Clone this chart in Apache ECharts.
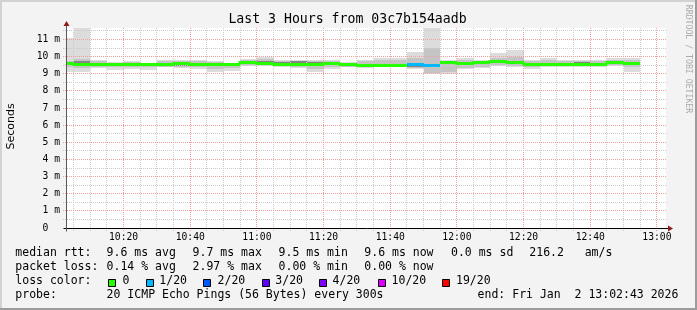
<!DOCTYPE html>
<html><head><meta charset="utf-8">
<script src="https://cdn.jsdelivr.net/npm/echarts@6/dist/echarts.min.js"></script>
<style>html,body{margin:0;padding:0;background:#f3f3f3}#c{width:697px;height:310px}</style>
</head><body><div id="c"></div>
<script>
// ---- time range (seconds of day) ----
const startClock = '10:02:43';
const endClock = '13:02:43';
// ---- 5-minute bins (end time of each bin) ----
const binEnd = ['10:05','10:10','10:15','10:20','10:25','10:30','10:35','10:40','10:45','10:50','10:55',
  '11:00','11:05','11:10','11:15','11:20','11:25','11:30','11:35','11:40','11:45','11:50','11:55',
  '12:00','12:05','12:10','12:15','12:20','12:25','12:30','12:35','12:40','12:45','12:50','12:55'];
// ---- values in ms ----
const rttMin  = [9.10,9.10,9.32,9.22,9.30,9.20,9.37,9.35,9.30,9.12,9.14,9.48,9.45,9.40,9.32,9.12,9.27,9.37,9.32,9.41,9.38,9.26,8.97,9.00,9.26,9.32,9.45,9.41,9.30,9.41,9.41,9.37,9.41,9.45,9.12];
const rttLo   = [9.42,9.35,9.42,9.38,9.42,9.42,9.42,9.42,9.40,9.30,9.32,9.52,9.50,9.45,9.42,9.30,9.38,9.42,9.40,9.45,9.45,9.35,9.05,9.12,9.35,9.40,9.50,9.48,9.38,9.45,9.45,9.45,9.45,9.50,9.40];
const coreLo  = [9.55,9.50,9.52,9.47,9.52,9.52,9.45,9.45,9.50,9.52,9.50,9.55,9.58,9.55,9.55,9.52,9.50,9.48,9.44,9.47,9.47,9.40,9.38,9.58,9.58,9.60,9.62,9.60,9.48,9.55,9.55,9.55,9.55,9.58,9.55];
const median  = [9.61,9.58,9.57,9.57,9.58,9.57,9.60,9.65,9.59,9.60,9.59,9.68,9.65,9.60,9.60,9.60,9.61,9.58,9.52,9.52,9.52,9.55,9.50,9.67,9.65,9.70,9.72,9.69,9.60,9.60,9.60,9.60,9.60,9.67,9.63];
const coreHi  = [9.66,9.72,9.64,9.60,9.62,9.60,9.63,9.68,9.62,9.63,9.61,9.70,9.72,9.70,9.74,9.68,9.63,9.62,9.58,9.58,9.57,9.60,9.55,9.70,9.70,9.72,9.75,9.72,9.62,9.65,9.63,9.70,9.65,9.70,9.67];
const rttHi   = [9.76,9.85,9.74,9.66,9.70,9.62,9.72,9.74,9.72,9.68,9.62,9.80,9.85,9.74,9.76,9.72,9.72,9.66,9.72,9.80,9.78,9.95,10.49,9.72,9.80,9.75,9.95,10.00,9.72,9.78,9.72,9.72,9.72,9.80,9.80];
const rttMax  = [11.07,12.50,9.80,9.68,9.76,9.64,9.78,9.80,9.80,9.76,9.64,9.85,9.97,9.80,9.80,9.80,9.80,9.70,9.80,9.90,9.90,10.29,12.50,9.80,9.90,9.80,10.19,10.38,9.80,9.90,9.80,9.80,9.80,9.90,9.90];
const lossPct = [0,0,0,0,0,0,0,0,0,0,0,0,0,0,0,0,0,0,0,0,0,1.93,2.97,0,0,0,0,0,0,0,0,0,0,0,0];
// ---- loss colours ----
const lossThresh = [0,1,2,3,4,10,19];
const lossColors = ['#26ff00','#00b8ff','#0059ff','#5e00ff','#7e00ff','#dd00ff','#ff0000'];
const lossLabels = ['0','1/20','2/20','3/20','4/20','10/20','19/20'];
// ---- axis ----
const xTickLabels = ['10:20','10:40','11:00','11:20','11:40','12:00','12:20','12:40','13:00'];
const yMaxMs = 11.675;
// ---- legend text ----
const rowMedian = ['median rtt:','9.6 ms avg','9.7 ms max','9.5 ms min','9.6 ms now','0.0 ms sd','216.2   am/s'];
const rowLoss = ['packet loss:','0.14 % avg','2.97 % max','0.00 % min','0.00 % now'];
const rowProbe = ['probe:','20 ICMP Echo Pings (56 Bytes) every 300s','end: Fri Jan  2 13:02:43 2026'];
const titleText = 'Last 3 Hours from 03c7b154aadb';

function toSec(s){const p=s.split(':').map(Number);return p[0]*3600+p[1]*60+(p[2]||0);}
const T0 = toSec(startClock), T1 = toSec(endClock);
const binStart = binEnd.map((e,i)=> i===0 ? T0 : toSec(binEnd[i-1]));
function colorIdx(pct){const pings=pct/100*20;for(let i=0;i<lossThresh.length;i++){if(pings<=lossThresh[i])return i;}return lossThresh.length-1;}

const smokeData = binEnd.map((e,i)=>[binStart[i],toSec(e),rttMin[i],rttLo[i],coreLo[i],coreHi[i],rttHi[i],rttMax[i]]);
const medData = binEnd.map((e,i)=>[binStart[i],toSec(e),median[i], i>0?median[i-1]:median[i], colorIdx(lossPct[i]), i>0?colorIdx(lossPct[i-1]):-1]);

const vGrid = [];
for (let t = Math.ceil(T0/300)*300; t <= T1; t += 300) {
  const lab = xTickLabels.find(l=>toSec(l)===t) || '';
  vGrid.push([t, t%1200===0?1:0, lab]);
}
const hGrid = [];
for (let v = 0.5; v < yMaxMs; v += 0.5) hGrid.push([v, Number.isInteger(v)?1:0]);

const MONO = '"DejaVu Sans Mono"';
const MAJOR = '#f0a0a0', MINOR = '#cccccc';

const chart = echarts.init(document.getElementById('c'));

const graphics = [
  {type:'rect', shape:{x:0,y:0,width:697,height:2}, style:{fill:'#d2d2d2'}},
  {type:'rect', shape:{x:0,y:0,width:2,height:310}, style:{fill:'#d2d2d2'}},
  {type:'rect', shape:{x:0,y:308,width:697,height:2}, style:{fill:'#9c9c9c'}},
  {type:'rect', shape:{x:695,y:0,width:2,height:310}, style:{fill:'#9c9c9c'}},
];
function txt(x,y,t,font,opts){
  opts=opts||{};
  return {type:'text', x:x, y:y, rotation:opts.rot||0, style:{text:t, font:font, fill:opts.fill||'#000',
    align:opts.align||'left', textAlign:opts.align||'left', verticalAlign:'middle', textVerticalAlign:'middle'}};
}
graphics.push(txt(347.5,19.5,titleText,'13.2px '+MONO,{align:'center'}));
graphics.push(txt(11,126.5,'Seconds','11px "DejaVu Sans"',{align:'center',rot:Math.PI/2}));
graphics.push(txt(688.5,59,'RRDTOOL / TOBI OETIKER','8.2px '+MONO,{align:'center',rot:-Math.PI/2,fill:'#ababab'}));
const LF = '11.5px '+MONO;
const rowMedX = [16,107.3,193.3,279.3,365,451.7,530];
rowMedian.forEach((t,i)=>graphics.push(txt(rowMedX[i]-0.7,253.5,t,LF)));
rowLoss.forEach((t,i)=>graphics.push(txt(rowMedX[i]-0.7,267.5,t,LF)));
graphics.push(txt(16-0.7,281.5,'loss color:',LF));
const sqX = [108.3,145.7,203.3,261.7,319.3,377.7,441.7];
const sqLabX = [123.3,160,218.3,276,333.3,392.3,456.7];
lossColors.forEach((c,i)=>{
  graphics.push({type:'rect', shape:{x:Math.round(sqX[i])+0.5,y:279.5,width:7,height:7}, style:{fill:c,stroke:'#000',lineWidth:1}});
  graphics.push(txt(sqLabX[i]-0.7,281.5,lossLabels[i],LF));
});
const rowProbeX = [16,107.3,478.3];
rowProbe.forEach((t,i)=>graphics.push(txt(rowProbeX[i]-0.7,295.5,t,LF)));

chart.setOption({
  animation:false,
  backgroundColor:'#f3f3f3',
  grid:{left:66,right:31,top:28,bottom:82,show:true,backgroundColor:'#ffffff',borderWidth:0},
  xAxis:{type:'value',min:T0,max:T1,axisLabel:{show:false},axisLine:{show:false},axisTick:{show:false},splitLine:{show:false}},
  yAxis:{type:'value',min:0,max:yMaxMs,interval:1,
    axisLine:{show:false},axisTick:{show:false},splitLine:{show:false},
    axisLabel:{showMaxLabel:false,margin:6,color:'#000',fontFamily:'DejaVu Sans Mono',fontSize:9.7,
      formatter:v=> v===0 ? '0  ' : (Number.isInteger(v)? v+' m' : '')}},
  graphic:{elements:graphics},
  series:[
    {type:'custom', z:1, clip:true, data:smokeData, encode:{x:[0,1],y:[2,7]},
      renderItem:(params,api)=>{
        const s=api.value(0), e=api.value(1);
        const rect=(y0,y1,fill)=>{
          const a=api.coord([s,y1]), b=api.coord([e,y0]);
          const x0=Math.round(a[0]), x1=Math.round(b[0]), ya=Math.round(a[1]), yb=Math.round(b[1]);
          return {type:'rect', shape:{x:x0,y:ya,width:x1-x0,height:Math.max(1,yb-ya)}, style:{fill:fill}};
        };
        return {type:'group', children:[
          rect(api.value(2),api.value(7),'#dcdcdc'),
          rect(api.value(3),api.value(6),'#c4c4c4'),
          rect(api.value(4),api.value(5),'#858585')]};
      }},
    {type:'custom', z:2, clip:false, data:vGrid,
      renderItem:(params,api)=>{
        const t=api.value(0), major=api.value(1)===1;
        const top=api.coord([t,yMaxMs]), bot=api.coord([t,0]);
        const x=Math.floor(top[0])+0.5;
        const ch=[{type:'line', shape:{x1:x,y1:Math.round(top[1]),x2:x,y2:Math.round(bot[1])+3},
          style:{stroke:major?MAJOR:MINOR,lineWidth:1,lineDash:[1,1]}}];
        const lab=vGrid[params.dataIndex][2];
        if(lab) ch.push({type:'text', x:top[0], y:bot[1]+9, style:{text:lab, font:'9.7px '+MONO, fill:'#000', align:'center', verticalAlign:'middle'}});
        return {type:'group', children:ch};
      }},
    {type:'custom', z:2, clip:false, data:hGrid,
      renderItem:(params,api)=>{
        const v=api.value(0), major=api.value(1)===1;
        const l=api.coord([T0,v]), r=api.coord([T1,v]);
        const y=Math.floor(l[1])+0.5;
        return {type:'line', shape:{x1:Math.round(l[0])-3,y1:y,x2:Math.round(r[0]),y2:y},
          style:{stroke:major?MAJOR:MINOR,lineWidth:1,lineDash:[1,1]}};
      }},
    {type:'custom', z:3, clip:true, data:medData, encode:{x:[0,1],y:2},
      renderItem:(params,api)=>{
        const s=api.value(0), e=api.value(1), m=api.value(2), pm=api.value(3), ci=api.value(4), pci=api.value(5);
        const a=api.coord([s,m]), b=api.coord([e,m]);
        const y=Math.round(a[1])+0.5, x0=Math.round(a[0]), x1=Math.round(b[0]);
        const pts=[];
        if(pci===ci){pts.push([x0,Math.round(api.coord([s,pm])[1])+0.5]);}
        pts.push([x0,y],[x1,y]);
        return {type:'polyline', shape:{points:pts}, style:{stroke:lossColors[ci],lineWidth:3,fill:null,lineCap:'butt',lineJoin:'miter'}};
      }},
    {type:'custom', z:4, clip:false, data:[[T0,0]],
      renderItem:(params,api)=>{
        const o=api.coord([T0,0]), r=api.coord([T1,0]), t=api.coord([T0,yMaxMs]);
        const ox=Math.floor(o[0])+0.5, oy=Math.round(o[1])+0.5, rx=Math.round(r[0]), ty=Math.round(t[1]);
        return {type:'group', children:[
          {type:'line', shape:{x1:ox-3,y1:oy,x2:rx+3,y2:oy}, style:{stroke:'#000',lineWidth:1}},
          {type:'line', shape:{x1:ox,y1:oy+3,x2:ox,y2:ty-3}, style:{stroke:'#5a5a5a',lineWidth:1}},
          {type:'polygon', shape:{points:[[rx+2,oy-3],[rx+7,oy],[rx+2,oy+3]]}, style:{fill:'#8c1c1c'}},
          {type:'polygon', shape:{points:[[ox-3,ty-2],[ox,ty-7],[ox+3,ty-2]]}, style:{fill:'#8c1c1c'}}
        ]};
      }}
  ]
});
</script></body></html>
